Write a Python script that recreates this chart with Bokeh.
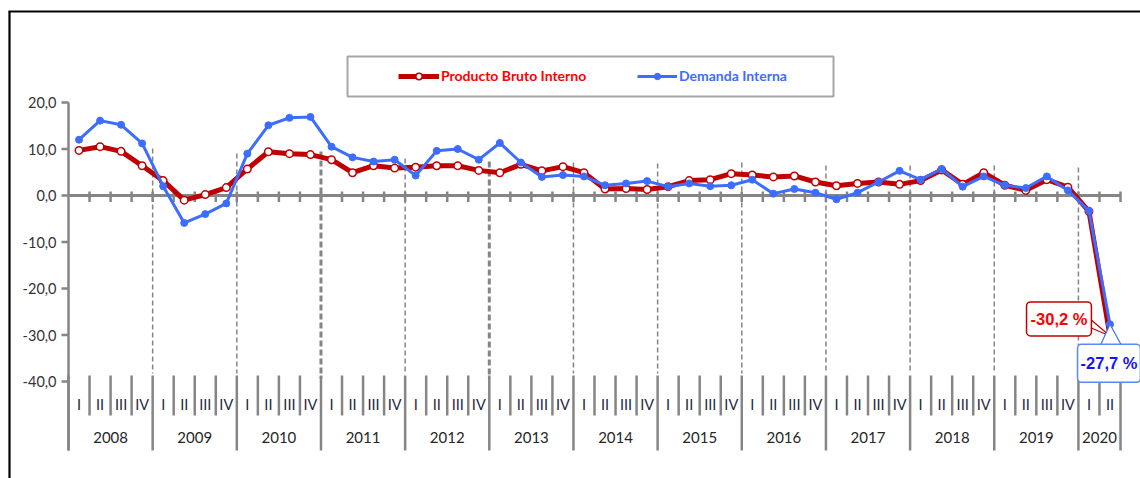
import numpy as np
from bokeh.plotting import figure
from bokeh.models import Range1d, ColumnDataSource, Legend, LegendItem, Label
from bokeh.core.properties import value
from bokeh.embed import file_html
from bokeh.resources import INLINE

# ---------------- data ----------------
years = ["2008", "2009", "2010", "2011", "2012", "2013", "2014",
         "2015", "2016", "2017", "2018", "2019", "2020"]
quarter_names = ["I", "II", "III", "IV"]
quarters_per_year = [4] * 12 + [2]

pbi = [9.7, 10.5, 9.5, 6.4,
       3.2, -1.0, 0.2, 1.7,
       5.7, 9.4, 9.0, 8.8,
       7.7, 4.9, 6.4, 5.9,
       6.1, 6.4, 6.4, 5.4,
       4.9, 6.7, 5.3, 6.2,
       4.9, 1.4, 1.5, 1.3,
       1.9, 3.2, 3.4, 4.7,
       4.4, 4.0, 4.2, 2.9,
       2.1, 2.6, 2.9, 2.4,
       3.2, 5.5, 2.4, 4.9,
       2.2, 1.1, 3.4, 1.8,
       -3.4, -30.2]

demanda = [12.0, 16.1, 15.2, 11.2,
           2.0, -5.9, -4.0, -1.7,
           9.0, 15.1, 16.7, 16.9,
           10.5, 8.2, 7.3, 7.7,
           4.3, 9.6, 10.0, 7.7,
           11.3, 7.1, 4.0, 4.4,
           4.1, 2.2, 2.6, 3.1,
           1.9, 2.6, 2.0, 2.2,
           3.4, 0.4, 1.4, 0.6,
           -0.8, 0.6, 2.9, 5.3,
           3.4, 5.7, 1.9, 4.1,
           2.2, 1.6, 4.1, 1.1,
           -3.3, -27.7]

y_ticks = [20, 10, 0, -10, -20, -30, -40]
y_tick_labels = ["20,0", "10,0", "0,0", "-10,0", "-20,0", "-30,0", "-40,0"]
series_names = ["Producto Bruto Interno", "Demanda Interna"]
callout_pbi = "-30,2 %"
callout_di = "-27,7 %"

quarter_labels = []
year_of = []
for yname, nq in zip(years, quarters_per_year):
    quarter_labels += quarter_names[:nq]
    year_of += [yname] * nq

# ---------------- geometry helpers (picture pixels -> data) ----------------
W, H = 1140, 478
PX_Q = 21.04   # px per quarter
PX_V = 4.65    # px per unit of %
AXIS_PX = 68   # x of the value axis
ZERO_PX = 195  # y of zero


def X(px):
    return (px - AXIS_PX) / PX_Q - 0.5


def Y(px):
    return (ZERO_PX - px) / PX_V


GRAY = "#858585"
RED = "#c00000"
BLUE = "#3d6dff"
FONT = "Lato"

p = figure(width=W, height=H, x_range=Range1d(X(0), X(W)),
           y_range=Range1d(Y(H), Y(0)), output_backend="svg",
           toolbar_location=None, min_border=0,
           x_axis_location=None, y_axis_location=None)
p.outline_line_color = None
p.background_fill_color = "white"
p.border_fill_color = "white"
for g in p.grid:
    g.visible = False

N = len(quarter_labels)
xs = np.arange(N)
bounds = np.arange(N + 1) - 0.5
year_start = np.cumsum([0] + quarters_per_year)
year_set = set(int(k) for k in year_start)
year_bounds = bounds[year_start]
q_bounds = np.array([b for k, b in enumerate(bounds) if k not in year_set])

# outer frame (top and left)
p.segment(x0=[X(8), X(9)], y0=[Y(11), Y(11)], x1=[X(W), X(9)], y1=[Y(11), Y(H)],
          line_color="black", line_width=2.2)

# value axis
lab_top = Y(375)
lab_mid = Y(415)
lab_bot = Y(450)
p.segment(x0=[-0.5], y0=[max(y_ticks)], x1=[-0.5], y1=[lab_bot], line_color=GRAY, line_width=2.5)
yt = np.array(y_ticks, dtype=float)
p.segment(x0=np.full(len(yt), -0.5 - 7 / PX_Q), y0=yt, x1=np.full(len(yt), -0.5), y1=yt,
          line_color=GRAY, line_width=2.5)
p.text(x=np.full(len(yt), -0.5 - 12 / PX_Q), y=yt, text=y_tick_labels,
       text_align="right", text_baseline="middle", text_font=value(FONT),
       text_font_size="14.5px", text_color="#333333")

# dashed year dividers
dash_top_px = [148, 153, 151, 158, 161, 162, 163, 162, 165, 165, 165, 167]
thick_years = ["2011", "2013"]
inner_year_bounds = year_bounds[1:-1]
thin_x, thin_top, thick_x, thick_top = [], [], [], []
for yb, ytop, yname in zip(inner_year_bounds, dash_top_px, years[1:]):
    if yname in thick_years:
        thick_x.append(yb); thick_top.append(Y(ytop))
    else:
        thin_x.append(yb); thin_top.append(Y(ytop))
p.segment(x0=thin_x, y0=thin_top, x1=thin_x, y1=[Y(373)] * len(thin_x),
          line_color=GRAY, line_width=1.5, line_dash="5 3")
p.segment(x0=thick_x, y0=thick_top, x1=thick_x, y1=[Y(378)] * len(thick_x),
          line_color=GRAY, line_width=3, line_dash="6 3")

# zero line with ticks
p.segment(x0=[-0.5], y0=[0], x1=[N - 0.5], y1=[0], line_color=GRAY, line_width=3)
tb = bounds[1:]
p.segment(x0=tb, y0=np.full(len(tb), 4 / PX_V), x1=tb, y1=np.full(len(tb), -6.5 / PX_V),
          line_color=GRAY, line_width=2.5)

# category separators
p.segment(x0=q_bounds, y0=np.full(len(q_bounds), lab_top), x1=q_bounds,
          y1=np.full(len(q_bounds), lab_mid), line_color=GRAY, line_width=2.5)
p.segment(x0=year_bounds, y0=np.full(len(year_bounds), lab_top), x1=year_bounds,
          y1=np.full(len(year_bounds), lab_bot), line_color=GRAY, line_width=2.5)

# category labels
p.text(x=xs, y=np.full(N, Y(404)), text=quarter_labels, text_align="center",
       text_baseline="middle", text_font=value(FONT), text_font_size="14.5px",
       text_color="#262640")
year_centers = [(year_start[i] + year_start[i + 1] - 1) / 2 for i in range(len(years))]
p.text(x=year_centers, y=np.full(len(years), Y(437)), text=years, text_align="center",
       text_baseline="middle", text_font=value(FONT), text_font_size="15px",
       text_color="#262626")

# series
src = ColumnDataSource(dict(x=xs, pbi=pbi, di=demanda))
r_pl = p.line("x", "pbi", source=src, line_color=RED, line_width=5, line_join="round")
r_ps = p.scatter("x", "pbi", source=src, marker="circle", size=7.5, fill_color="white",
                 line_color=RED, line_width=1.5)
r_dl = p.line("x", "di", source=src, line_color=BLUE, line_width=3, line_join="round")
r_ds = p.scatter("x", "di", source=src, marker="circle", size=7, fill_color=BLUE,
                 line_color=BLUE, line_width=1)

# legend box
p.quad(left=[X(347)], right=[X(833)], top=[Y(56)], bottom=[Y(96)],
       fill_color=None, line_color="#a6a6a6", line_width=2)

common = dict(orientation="horizontal", padding=0, margin=0, spacing=0,
              border_line_color=None, background_fill_alpha=0,
              glyph_height=16, label_height=16, label_standoff=2,
              label_text_font=FONT, label_text_font_style="bold",
              label_text_font_size="14px")
leg1 = Legend(items=[LegendItem(label=series_names[0], renderers=[r_pl, r_ps])],
              location=(398, H - 84), glyph_width=41,
              label_text_color="#ff0000", **common)
leg2 = Legend(items=[LegendItem(label=series_names[1], renderers=[r_dl, r_ds])],
              location=(637, H - 84), glyph_width=40,
              label_text_color=BLUE, **common)
p.add_layout(leg1)
p.add_layout(leg2)

# callouts
last = N - 1
p.patch(x=[last - 21 / PX_Q, last - 21 / PX_Q, last],
        y=[pbi[last] + 18 / PX_V, pbi[last] + 9 / PX_V, pbi[last]],
        fill_color="white", line_color=RED, line_width=1.2)
p.patch(x=[last, last - 10 / PX_Q, last + 12 / PX_Q],
        y=[demanda[last], demanda[last] - 22 / PX_V, demanda[last] - 22 / PX_V],
        fill_color="white", line_color=BLUE, line_width=1.2)
p.add_layout(Label(x=last, y=pbi[last], x_offset=-51, y_offset=17, text=callout_pbi,
                   text_align="center", text_baseline="middle",
                   text_font="Liberation Sans", text_font_style="bold",
                   text_font_size="16.5px", text_color="#ff0000",
                   background_fill_color="white", border_line_color=RED,
                   border_line_width=1.5, padding=(4, 8), border_radius=4))
p.add_layout(Label(x=last, y=demanda[last], x_offset=-1, y_offset=-39, text=callout_di,
                   text_align="center", text_baseline="middle",
                   text_font="Liberation Sans", text_font_style="bold",
                   text_font_size="16.5px", text_color="#1414ff",
                   background_fill_color="white", border_line_color="#5a86ff",
                   border_line_width=1.5, padding=(3, 10), border_radius=4))

open("out.html", "w").write(file_html(p, INLINE))
